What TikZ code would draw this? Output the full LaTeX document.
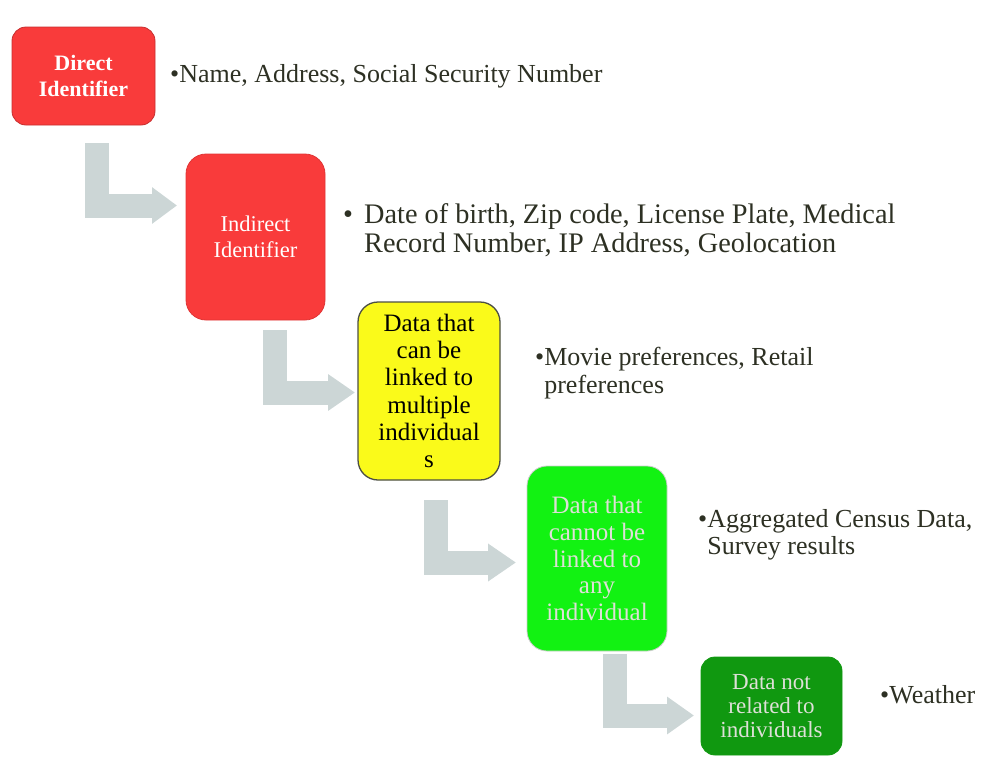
\documentclass[tikz,border=0pt]{standalone}
\usepackage{fontspec}
\setmainfont{Liberation Serif}
\usetikzlibrary{arrows.meta}
\definecolor{boxred}{RGB}{249,59,59}
\definecolor{boxyellow}{RGB}{250,250,26}
\definecolor{boxlime}{RGB}{18,242,18}
\definecolor{boxdark}{RGB}{16,152,16}
\definecolor{arrowgray}{RGB}{204,214,214}
\definecolor{txtdark}{RGB}{45,48,35}
\definecolor{txtlight}{RGB}{222,224,216}
\begin{document}
\begin{tikzpicture}[x=1pt,y=-1pt,
  box/.style={rounded corners=16pt, align=center, inner sep=0pt, line width=0.8pt},
  bent/.style={draw=arrowgray, line width=24pt, line join=miter},
  bul/.style={anchor=base west, inner sep=0pt, text=txtdark, font=\fontsize{26}{28}\selectfont}
]
\useasboundingbox (0,0) rectangle (994,774);

% boxes
\node[box, fill=boxred, draw=boxred!80!black, minimum width=143pt, minimum height=98pt,
      text=white, font=\fontsize{22}{26}\selectfont\bfseries, rounded corners=14pt] (b1) at (83.5,76) {Direct\\Identifier};
\node[box, fill=boxred, draw=boxred!90!black, minimum width=139pt, minimum height=166pt,
      text=white, font=\fontsize{22.5}{26}\selectfont, rounded corners=20pt] (b2) at (255.5,237) {Indirect\\Identifier};
\node[box, fill=boxyellow, draw=txtdark!85, line width=1.3pt, minimum width=142pt, minimum height=178pt,
      text=black, font=\fontsize{25}{27.2}\selectfont, rounded corners=20pt] (b3) at (429,391)
      {Data that\\can be\\linked to\\multiple\\individual\\s};
\node[box, fill=boxlime, draw=gray!40, minimum width=140pt, minimum height=185pt,
      text=txtlight, font=\fontsize{25}{26.8}\selectfont, rounded corners=20pt] (b4) at (597,558.5)
      {Data that\\cannot be\\linked to\\any\\individual};
\node[box, fill=boxdark, draw=boxdark, minimum width=141pt, minimum height=98pt,
      text=txtlight, font=\fontsize{23}{23.6}\selectfont, rounded corners=14pt] (b5) at (771.5,706)
      {Data not\\related to\\individuals};

% arrow end points
\coordinate (a1s) at (96.5,143);  \coordinate (a1e) at (177,205.5);
\coordinate (a2s) at (275,330);   \coordinate (a2e) at (355,392.5);
\coordinate (a3s) at (436,500);   \coordinate (a3e) at (516,562.5);
\coordinate (a4s) at (615,654);   \coordinate (a4e) at (694,715.5);

\draw[bent, -{Triangle[width=35pt,length=25pt]}] (a1s) |- (a1e);
\draw[bent, -{Triangle[width=35pt,length=27pt]}] (a2s) |- (a2e);
\draw[bent, -{Triangle[width=36pt,length=28pt]}] (a3s) |- (a3e);
\draw[bent, -{Triangle[width=36pt,length=27pt]}] (a4s) |- (a4e);

% bullet texts
\node[bul] (t1) at (170,82) {\begin{tabular}[t]{@{}l@{}l@{}}•&Name, Address, Social Security Number\end{tabular}};
\node[bul, font=\fontsize{28.3}{29}\selectfont] (t2) at (343,223) {\begin{tabular}[t]{@{}p{21pt}@{}l@{}}•&Date of birth, Zip code, License Plate, Medical\\ &Record Number, IP Address, Geolocation\end{tabular}};
\node[bul] (t3) at (535,365) {\begin{tabular}[t]{@{}l@{}l@{}}•&Movie preferences, Retail\\ &preferences\end{tabular}};
\node[bul, font=\fontsize{26}{27}\selectfont] (t4) at (698,527) {\begin{tabular}[t]{@{}l@{}l@{}}•&Aggregated Census Data,\\ &Survey results\end{tabular}};
\node[bul] (t5) at (880,703) {\begin{tabular}[t]{@{}l@{}l@{}}•&Weather\end{tabular}};
\end{tikzpicture}
\end{document}
